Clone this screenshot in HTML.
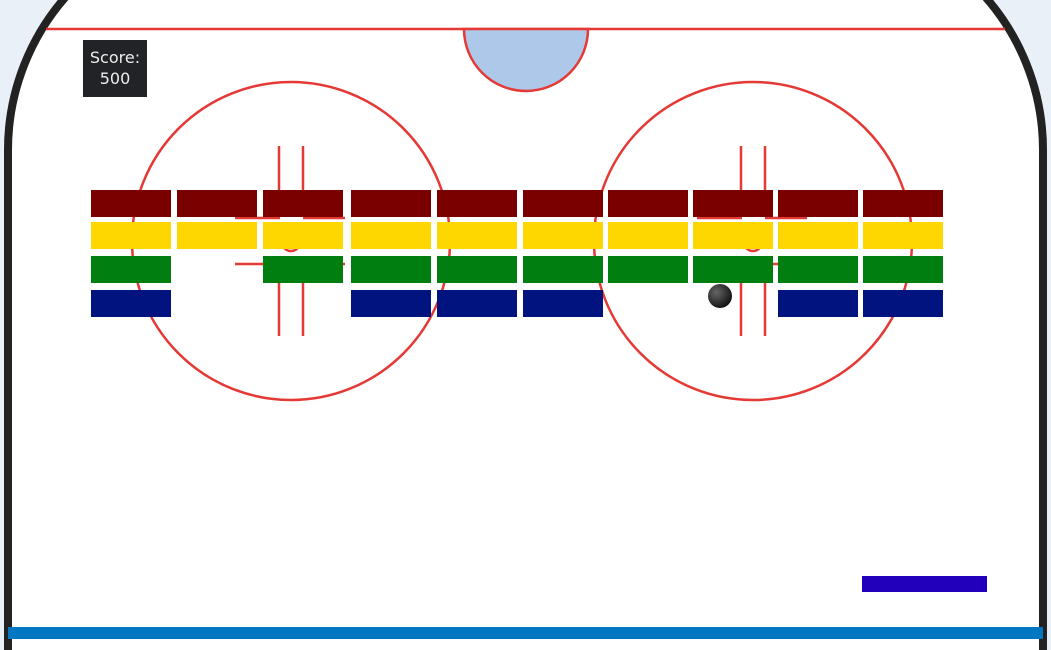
<!DOCTYPE html>
<html><head><style>
body{margin:0;width:1051px;height:650px;overflow:hidden;background:#e9f0f8;font-family:"DejaVu Sans","Liberation Sans",sans-serif}
</style></head><body>
<svg width="1051" height="650" style="position:absolute;left:0;top:0">
<path d="M8,670 L8,150 A232,232 0 0 1 240,-82 L811,-82 A232,232 0 0 1 1043,150 L1043,670 Z" fill="#fff" stroke="#222" stroke-width="8"/>
<line x1="46" y1="29" x2="1005" y2="29" stroke="#e53935" stroke-width="2.5"/>
<path d="M464,29 A62,62 0 0 0 588,29 Z" fill="#adc8e8" stroke="#e53935" stroke-width="2.5"/>
<g id="faceoffs" fill="none" stroke="#e53935" stroke-width="2.5"></g>
<g id="bricks"></g>
<circle cx="720" cy="296" r="12" fill="url(#bg)"/>
<defs><radialGradient id="bg" cx="0.35" cy="0.35" r="0.7"><stop offset="0" stop-color="#666"/><stop offset="1" stop-color="#111"/></radialGradient></defs>
<rect x="862" y="576" width="125" height="16" fill="#2200bb"/>
<rect x="8" y="627" width="1035" height="12" fill="#0077c0"/>
</svg>
<div style="position:absolute;left:83px;top:40px;width:64px;height:57px;background:#222327;color:#eee;font-size:16px;text-align:center;line-height:21px;padding-top:7px;box-sizing:border-box">Score:<br>500</div>
<script>
const colX=[91,177,263,351,437,523,608,693,778,863];
const rowY=[190,222,256,290];
const rowColors=['#7a0000','#ffd700','#007f10','#00137f'];
const present=[[1,1,1,1,1,1,1,1,1,1],[1,1,1,1,1,1,1,1,1,1],[1,0,1,1,1,1,1,1,1,1],[1,0,0,1,1,1,0,0,1,1]];
const centers=[291,753];
const NS='http://www.w3.org/2000/svg';
const fo=document.getElementById('faceoffs');
function mk(t,a,p){const e=document.createElementNS(NS,t);for(const k in a)e.setAttribute(k,a[k]);p.appendChild(e);return e;}
centers.forEach(cx=>{
 const cy=241;
 const c=mk('circle',{cx:cx,cy:cy,r:159},fo);
 
 
 const d=mk('circle',{cx:cx,cy:cy+1,r:9},fo);
 
 
 [[cx-12,146,cx-12,216],[cx+12,146,cx+12,216],[cx-12,265,cx-12,336],[cx+12,265,cx+12,336],[cx-56,218,cx-11,218],[cx+12,218,cx+54,218],[cx-56,264,cx-11,264],[cx+12,264,cx+54,264]].forEach(l=>{
  const ln=mk('line',{x1:l[0],y1:l[1],x2:l[2],y2:l[3]},fo);
  
  
 });
});
const bg=document.getElementById('bricks');
rowY.forEach((y,r)=>colX.forEach((x,c)=>{
 if(!present[r][c])return;
 const b=mk('rect',{x:x,y:y,width:80,height:27,fill:rowColors[r]},bg);
 
 
}));
</script>
</body></html>
